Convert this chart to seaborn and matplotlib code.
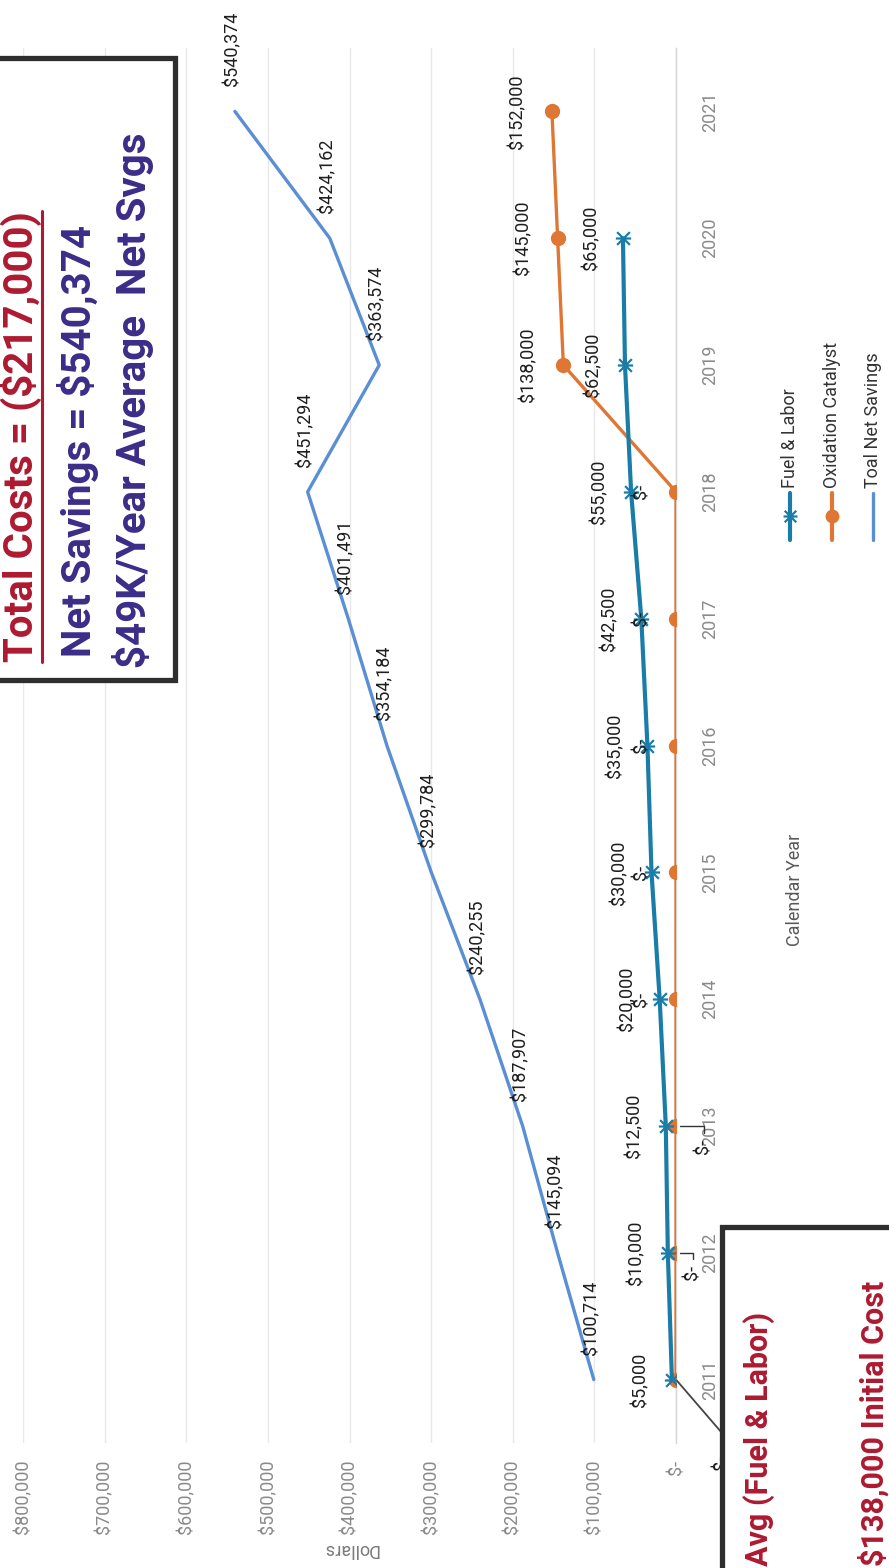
import matplotlib
matplotlib.use("Agg")
import matplotlib.pyplot as plt
import matplotlib.font_manager as fm
from matplotlib.path import Path
from matplotlib.patches import Rectangle
from matplotlib.lines import Line2D
import seaborn as sns
import pandas as pd

# ---- data -------------------------------------------------------------
years = [2011, 2012, 2013, 2014, 2015, 2016, 2017, 2018, 2019, 2020, 2021]
fuel_years = [2011, 2012, 2013, 2014, 2015, 2016, 2017, 2018, 2019, 2020]
fuel_labor = [5000, 10000, 12500, 20000, 30000, 35000, 42500, 55000, 62500, 65000]
oxidation = [0, 0, 0, 0, 0, 0, 0, 0, 138000, 145000, 152000]
net_savings = [100714, 145094, 187907, 240255, 299784, 354184, 401491,
               451294, 363574, 424162, 540374]
dollar_ticks = [0, 100000, 200000, 300000, 400000, 500000, 600000, 700000, 800000]
series_names = ["Fuel & Labor", "Oxidation Catalyst", "Toal Net Savings"]

# ---- look -------------------------------------------------------------
sns.set_theme(style="white")
names = {f.name for f in fm.fontManager.ttflist}
if "Liberation Sans Narrow" in names:
    FONT = "Liberation Sans Narrow"
elif "Roboto" in names:
    FONT = "Roboto"
else:
    FONT = "DejaVu Sans"
plt.rcParams["font.family"] = [FONT, "DejaVu Sans"]

TEAL = "#1a7da8"
ORANGE = "#e07634"
BLUE = "#5b8fd3"
RED = "#ad1a31"
PURPLE = "#3a2c88"
GRID = "#e8e8e8"

W, H = 889, 1568
fig = plt.figure(figsize=(W / 100, H / 100), dpi=100)


def fx(x):
    return x / W


def fy(y):
    return 1 - y / H


ax = fig.add_axes([fx(23), fy(1443), (676 - 23) / W, (1443 - 48) / H])

df_fuel = pd.DataFrame({"year": fuel_years, "value": fuel_labor})
df_ox = pd.DataFrame({"year": years, "value": oxidation})
df_net = pd.DataFrame({"year": years, "value": net_savings})

# asterisk marker: an x with a horizontal stroke
star = Path([(-1, -1), (1, 1), (-1, 1), (1, -1), (-1.2, 0), (1.2, 0)],
            [Path.MOVETO, Path.LINETO, Path.MOVETO, Path.LINETO,
             Path.MOVETO, Path.LINETO])

sns.lineplot(data=df_net, x="value", y="year", sort=False, estimator=None,
             color=BLUE, lw=2.4, ax=ax, zorder=3)
sns.lineplot(data=df_ox, x="value", y="year", sort=False, estimator=None,
             color=ORANGE, lw=2.4, marker="o", markersize=11,
             markeredgecolor=ORANGE, markeredgewidth=0, ax=ax, zorder=4)
sns.lineplot(data=df_fuel, x="value", y="year", sort=False, estimator=None,
             color=TEAL, lw=3.0, marker=star, markersize=11,
             markeredgecolor=TEAL, markeredgewidth=1.6, ax=ax, zorder=5)

ax.set_xlim(800000, 0)
ax.set_ylim(2010.5, 2021.5)
ax.set_xticks(dollar_ticks)
ax.set_xticklabels(["$-" if v == 0 else f"${v:,.0f}" for v in dollar_ticks],
                   rotation=90, color="#8a8a8a", fontsize=13)
ax.yaxis.tick_right()
ax.set_yticks(years)
ax.set_yticklabels([str(y) for y in years], rotation=90, color="#8a8a8a",
                   fontsize=13, va="center")
ax.tick_params(axis="x", length=0, pad=12)
ax.tick_params(axis="y", length=0, pad=18)
ax.set_xlabel("")
ax.set_ylabel("")
ax.grid(axis="x", color=GRID, lw=1)
ax.grid(axis="y", visible=False)
for side in ["top", "bottom", "left"]:
    ax.spines[side].set_visible(False)
ax.spines["right"].set_color("#d6d6d6")
ax.spines["right"].set_linewidth(1)

LBL = dict(rotation=90, rotation_mode="anchor", fontsize=13, color="#1e1e1e",
           textcoords="offset points", annotation_clip=False, zorder=6)


def money(v):
    return "$-" if v == 0 else f"${v:,.0f}"


# net savings labels sit just above each point
for yr, v in zip(years, net_savings):
    ax.annotate(money(v), (v, yr), xytext=(-2, 18), ha="left", va="center", **LBL)

# fuel & labor labels to the left of each point
for yr, v in zip(fuel_years, fuel_labor):
    ax.annotate(money(v), (v, yr), xytext=(-23, 0), ha="center", va="center", **LBL)

# oxidation catalyst labels; the first few were nudged off the line
ox_offsets = {2011: (33, -60), 2012: (12, -14), 2013: (20, -15)}
for yr, v in zip(years, oxidation):
    off = ox_offsets.get(yr, (-25, 0))
    if yr in (2012, 2013):
        ax.annotate(money(v), (v, yr), xytext=off, ha="center", va="center",
                    arrowprops=dict(arrowstyle="-", color="#333333", lw=1,
                                    shrinkA=2, shrinkB=3,
                                    connectionstyle="angle,angleA=90,angleB=0,rad=0"),
                    **LBL)
    else:
        ax.annotate(money(v), (v, yr), xytext=off, ha="center", va="center", **LBL)

# leader from the lower call-out box to the first catalyst point
ax.annotate("", (oxidation[0], years[0]), xytext=(fx(722), fy(1433)),
            textcoords="figure fraction", annotation_clip=False,
            arrowprops=dict(arrowstyle="-", color="#444444", lw=1.3,
                            shrinkA=0, shrinkB=0))

# axis titles
fig.text(fx(350), fy(1549), "Dollars", rotation=180, ha="center", va="center",
         fontsize=13, color="#7a7a7a")
fig.text(fx(795), fy(890), "Calendar Year", rotation=90, ha="center",
         va="center", fontsize=13, color="#595959")

# legend drawn as vertical entries
leg_x = [790, 832, 873]
for x, name, col in zip(leg_x, series_names, [TEAL, ORANGE, BLUE]):
    fig.add_artist(Line2D([fx(x), fx(x)], [fy(540), fy(493)], color=col,
                          lw=3 if col != BLUE else 2.4,
                          transform=fig.transFigure))
    if col == TEAL:
        fig.add_artist(Line2D([fx(x)], [fy(516)], marker=star, markersize=10,
                              mec=TEAL, mew=1.6, transform=fig.transFigure))
    elif col == ORANGE:
        fig.add_artist(Line2D([fx(x)], [fy(516)], marker="o", markersize=10,
                              color=ORANGE, mew=0, transform=fig.transFigure))
    fig.text(fx(x), fy(488), name, rotation=90, rotation_mode="anchor",
             ha="left", va="center", fontsize=13, color="#333333")

# upper call-out box
fig.add_artist(Rectangle((fx(-20), fy(680)), (175 + 20) / W, (680 - 58) / H,
                         transform=fig.transFigure, facecolor="white",
                         edgecolor="#2e2e2e", lw=3.8, zorder=7))
bold = dict(rotation=90, rotation_mode="anchor", ha="left", va="center",
            fontsize=29, fontweight="bold", zorder=8)
t1 = fig.text(fx(20), fy(662), "Total Costs = ($217,000)", color=RED, **bold)
fig.text(fx(78), fy(657), "Net Savings = $540,374", color=PURPLE, **bold)
fig.text(fx(133), fy(668), "$49K/Year Average  Net Svgs", color=PURPLE, **bold)

fig.canvas.draw()
bb = t1.get_window_extent()
fig.add_artist(Line2D([fx(42), fx(42)], [bb.y0 / H, bb.y1 / H], color=RED,
                      lw=2.2, transform=fig.transFigure, zorder=9))

# lower call-out box
fig.add_artist(Rectangle((fx(722), fy(1600)), (900 - 722) / W, (1600 - 1227) / H,
                         transform=fig.transFigure, facecolor="white",
                         edgecolor="#2e2e2e", lw=3.8, zorder=7))
bold2 = dict(bold, fontsize=22)
fig.text(fx(759), fy(1566), "Avg (Fuel & Labor)", color=RED, **bold2)
fig.text(fx(874), fy(1566), "$138,000 Initial Cost", color=RED, **bold2)

fig.savefig("out.png", dpi=100)
